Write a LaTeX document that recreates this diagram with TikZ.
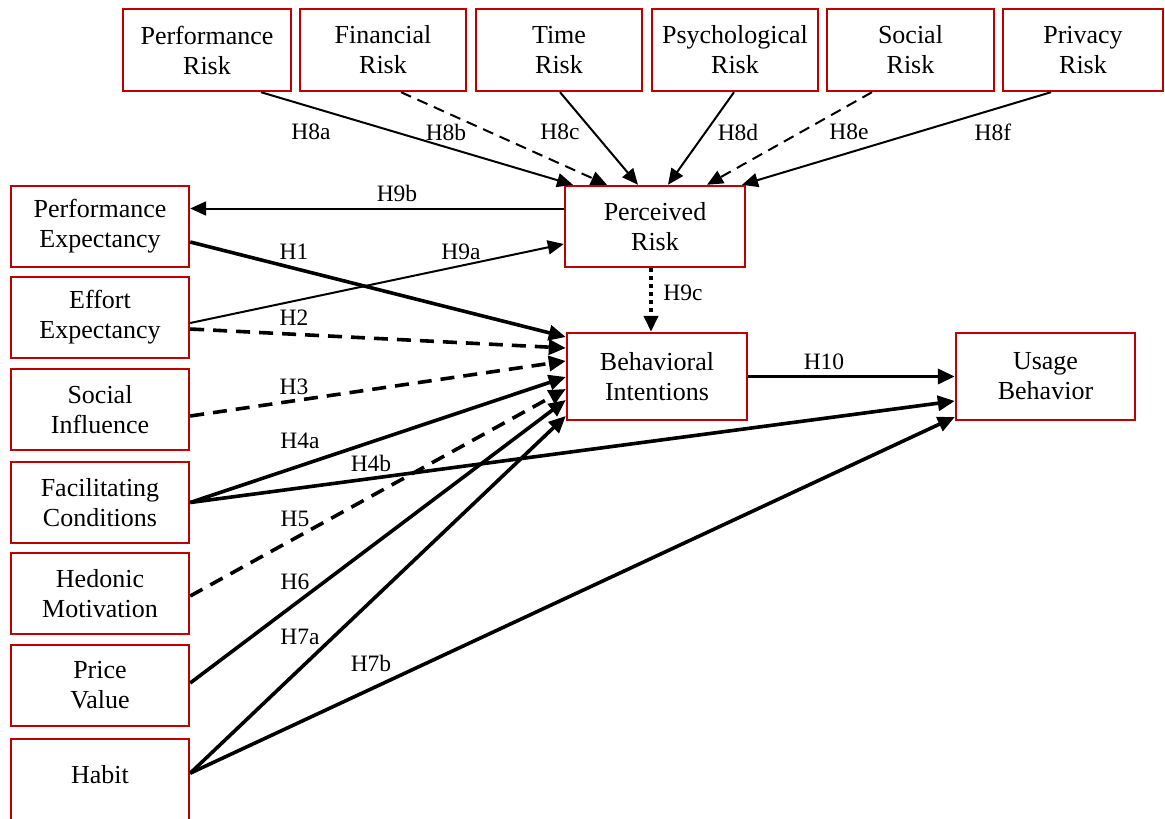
\documentclass[tikz,border=0pt]{standalone}
\usepackage{fontspec}
\setmainfont{Liberation Serif}
\usetikzlibrary{arrows.meta,calc}
\definecolor{boxred}{RGB}{192,0,0}
\begin{document}
\begin{tikzpicture}[x=1pt,y=-1pt,
  box/.style={draw=boxred, line width=2.4pt, align=center, inner sep=0pt,
    font=\fontsize{26}{30}\selectfont},
  lbl/.style={font=\fontsize{23.5}{26}\selectfont, inner sep=0pt},
  link/.style={line width=2pt, -{Triangle[length=16pt,width=14pt]}},
  strong/.style={line width=3.6pt, -{Triangle[length=17pt,width=15pt]}},
  dsh/.style={dash pattern=on 11pt off 7pt},
  thickdash/.style={dash pattern=on 14pt off 9pt},
  dots/.style={line width=4.5pt, dash pattern=on 4pt off 4pt,
    -{Triangle[length=16pt,width=14pt]}},
]
\useasboundingbox (0,0) rectangle (1165,819);

% risk dimensions
\node[box, minimum width=168pt, minimum height=82pt] (prf) at (207,50) {Performance\\Risk};
\node[box, minimum width=166pt, minimum height=82pt] (frf) at (383,50) {Financial\\Risk};
\node[box, minimum width=166pt, minimum height=82pt] (trf) at (559,50) {Time\\Risk};
\node[box, minimum width=166pt, minimum height=82pt] (psr) at (735,50) {Psychological\\Risk};
\node[box, minimum width=167pt, minimum height=82pt] (srf) at (910.5,50) {Social\\Risk};
\node[box, minimum width=160pt, minimum height=82pt] (pvr) at (1083,50) {Privacy\\Risk};

% UTAUT2 constructs
\node[box, minimum width=178pt, minimum height=81pt] (pe) at (100,226.5) {Performance\\Expectancy};
\node[box, minimum width=178pt, minimum height=81pt] (ee) at (100,317.5) {Effort\\Expectancy};
\node[box, minimum width=178pt, minimum height=81pt] (si) at (100,409.5) {Social\\Influence};
\node[box, minimum width=178pt, minimum height=81pt] (fc) at (100,502.5) {Facilitating\\Conditions};
\node[box, minimum width=178pt, minimum height=81pt] (hm) at (100,593.5) {Hedonic\\Motivation};
\node[box, minimum width=178pt, minimum height=81pt] (pv) at (100,685.5) {Price\\Value};
\node[box, minimum width=178pt, minimum height=100pt, text height=18pt, text depth=29pt,
  anchor=north] (habit) at (100,738) {Habit};

% central constructs
\node[box, minimum width=180pt, minimum height=81pt] (pr) at (655,226.5) {Perceived\\Risk};
\node[box, minimum width=180pt, minimum height=87pt] (bi) at (657,376.5) {Behavioral\\Intentions};
\node[box, minimum width=179pt, minimum height=87pt] (ub) at (1045.5,376.5) {Usage\\Behavior};

% risk facets -> perceived risk
\draw[link] ([xshift=54pt]prf.south) -- ([xshift=-82pt]pr.north);
\draw[link,dsh] ([xshift=18pt]frf.south) -- ([xshift=-48pt]pr.north);
\draw[link] ([xshift=1pt]trf.south) -- ([xshift=-17pt]pr.north);
\draw[link] ([xshift=-1pt]psr.south) -- ([xshift=13pt]pr.north);
\draw[link,dsh] ([xshift=-38.5pt]srf.south) -- ([xshift=52pt]pr.north);
\draw[link] ([xshift=-32pt]pvr.south) -- ([xshift=87pt]pr.north);

% perceived risk paths
\draw[link] ([yshift=18pt]pr.west) -- ([yshift=18pt]pe.east);
\draw[link] ([yshift=-5.5pt]ee.east) -- ([yshift=-17.5pt]pr.west);
\draw[dots] ([xshift=-4pt]pr.south) -- ([xshift=-6pt]bi.north);

% predictors -> intentions / usage
\draw[strong] ([yshift=-15.5pt]pe.east) -- ([yshift=39.5pt]bi.west);
\draw[strong,thickdash] ([yshift=-11.5pt]ee.east) -- ([yshift=28.5pt]bi.west);
\draw[strong,thickdash] ([yshift=-6.5pt]si.east) -- ([yshift=15.5pt]bi.west);
\draw[strong] (fc.east) -- ([yshift=-0.5pt]bi.west);
\draw[strong] (fc.east) -- ([yshift=-24.5pt]ub.west);
\draw[strong,thickdash] ([yshift=-2.5pt]hm.east) -- ([yshift=-12.5pt]bi.west);
\draw[strong] ([yshift=2.5pt]pv.east) -- ([yshift=-23.5pt]bi.west);
\draw[strong] ([yshift=16pt]habit.east) -- ([yshift=-39.5pt]bi.west);
\draw[strong] ([yshift=16pt]habit.east) -- ([yshift=-40.5pt]ub.west);
\draw[strong] (bi.east) -- (ub.west);

% hypothesis labels
\node[lbl] (l8a) at (311,132) {H8a};
\node[lbl] (l8b) at (446,132) {H8b};
\node[lbl] (l8c) at (560,132) {H8c};
\node[lbl] (l8d) at (738,132) {H8d};
\node[lbl] (l8e) at (849,132) {H8e};
\node[lbl] (l8f) at (993,132) {H8f};
\node[lbl] (l9b) at (397,193) {H9b};
\node[lbl] (l9a) at (461,252) {H9a};
\node[lbl] (l9c) at (683,293) {H9c};
\node[lbl] (l1) at (294,252) {H1};
\node[lbl] (l2) at (294,318) {H2};
\node[lbl] (l3) at (294,387) {H3};
\node[lbl] (l4a) at (300,441) {H4a};
\node[lbl] (l4b) at (371,463) {H4b};
\node[lbl] (l5) at (295,519) {H5};
\node[lbl] (l6) at (295,582) {H6};
\node[lbl] (l7a) at (300,637) {H7a};
\node[lbl] (l7b) at (371,663) {H7b};
\node[lbl] (l10) at (824,362) {H10};
\end{tikzpicture}
\end{document}
